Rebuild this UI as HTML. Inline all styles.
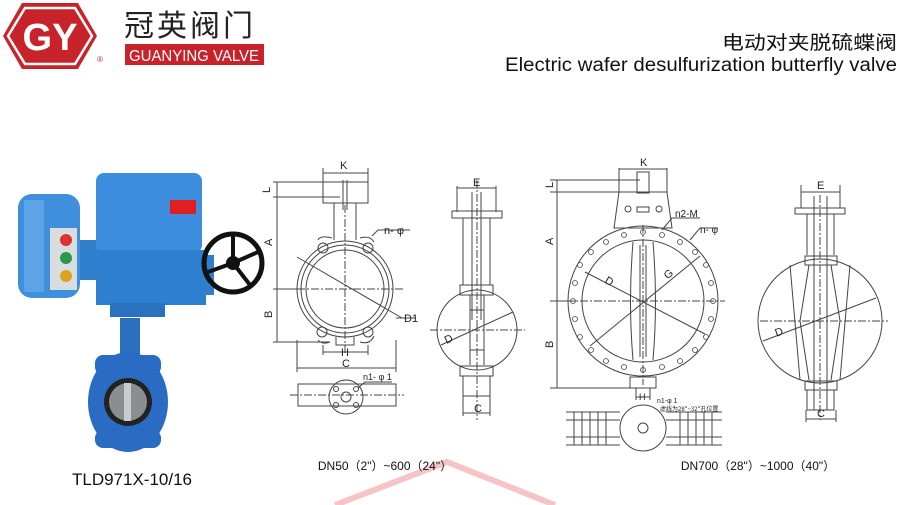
<!DOCTYPE html>
<html><head><meta charset="utf-8"><style>
body{margin:0;background:#fff;width:900px;height:505px;overflow:hidden;position:relative;font-family:"Liberation Sans","Noto Sans CJK SC",sans-serif}
svg{position:absolute;left:0;top:0}
</style></head><body>
<svg width="900" height="505" viewBox="0 0 900 505" xmlns="http://www.w3.org/2000/svg">
<g stroke="#f6c4c4" stroke-width="6" fill="none">
<polyline points="335,505 447,462 555,505"/>
</g>
<polygon points="22,3 78,3 97,36 78,69 22,69 3,36" fill="#c8232b"/>
<polygon points="25,8 75,8 92,36 75,64 25,64 8,36" fill="none" stroke="#fff" stroke-width="2.5"/>
<text x="50" y="50" font-size="38" font-weight="bold" fill="#fff" text-anchor="middle" font-family="Liberation Sans,sans-serif">GY</text>
<text x="97" y="62" font-size="8" fill="#c8232b">®</text>
<text x="124" y="36" font-size="30" fill="#222" font-family="Noto Sans CJK SC,sans-serif" letter-spacing="3">冠英阀门</text>
<rect x="125" y="44" width="139" height="21" fill="#c8232b"/>
<text x="194" y="61" font-size="16" fill="#fff" text-anchor="middle" textLength="130" lengthAdjust="spacingAndGlyphs">GUANYING VALVE</text>
<text x="897" y="49" font-size="19" fill="#111" text-anchor="end" font-family="Noto Sans CJK SC,sans-serif" textLength="175" lengthAdjust="spacingAndGlyphs">电动对夹脱硫蝶阀</text>
<text x="897" y="71" font-size="19" fill="#111" text-anchor="end" textLength="392" lengthAdjust="spacingAndGlyphs">Electric wafer desulfurization butterfly valve</text>
<!-- photo -->
<rect x="18" y="194" width="62" height="104" rx="14" fill="#3f8fdc"/>
<rect x="24" y="200" width="20" height="92" fill="#6fb3ef" opacity=".6"/>
<rect x="50" y="228" width="27" height="62" fill="#d8dde0"/>
<circle cx="66" cy="240" r="6" fill="#d33"/><circle cx="66" cy="258" r="6" fill="#2a9a4a"/><circle cx="66" cy="276" r="6" fill="#e0a020"/>
<rect x="80" y="240" width="20" height="40" fill="#2f7fcc"/>
<rect x="96" y="173" width="106" height="80" rx="8" fill="#3e8ee0"/>
<rect x="96" y="250" width="110" height="55" fill="#2f7fd0"/>
<rect x="110" y="303" width="55" height="14" fill="#2a72c0"/>
<rect x="170" y="200" width="26" height="14" fill="#e02020"/>
<rect x="200" y="255" width="14" height="40" fill="#2f7fcc"/>
<circle cx="233" cy="263" r="29" fill="none" stroke="#111" stroke-width="5"/>
<path d="M233,263 L233,236 M233,263 L208,272 M233,263 L250,285 M233,263 L258,252" stroke="#111" stroke-width="4"/>
<circle cx="233" cy="263" r="7" fill="#111"/>
<rect x="120" y="318" width="20" height="45" fill="#2a6fc0"/>
<ellipse cx="128" cy="402" rx="40" ry="50" fill="#2a6cc4"/>
<rect x="95" y="355" width="66" height="20" rx="8" fill="#2a6cc4"/>
<rect x="95" y="430" width="66" height="18" rx="8" fill="#2a6cc4"/>
<circle cx="128" cy="402" r="24" fill="#222"/>
<circle cx="128" cy="402" r="19" fill="#8a8e90"/>
<rect x="124" y="383" width="7" height="38" fill="#c8cccc"/>
<text x="132" y="485" font-size="17" fill="#111" text-anchor="middle">TLD971X-10/16</text>
<g stroke="#444" stroke-width="1" fill="none" font-size="10">
<rect x="323" y="182" width="45" height="21"/>
<path d="M334,203 L334,240 M356,203 L356,240 M343,180 L343,210 M347,180 L347,210"/>
<path d="M323,168 V182 M368,168 V182 M323,173 H368"/>
<circle cx="345" cy="289" r="48"/><circle cx="345" cy="289" r="44"/><circle cx="345" cy="289" r="39"/>
<circle cx="323" cy="248" r="5"/><circle cx="368" cy="248" r="5"/><circle cx="322" cy="332" r="5"/><circle cx="368" cy="332" r="5"/>
<path d="M318,240 Q320,235 332,238 M360,238 Q370,235 374,242 M318,340 Q322,345 330,342 M360,342 Q370,345 374,336"/>
<path d="M336,337 V345 H354 V337"/>
<path d="M297,289 H404 M345,205 V355" stroke-dasharray="8,2,2,2"/>
<path d="M273,182 H323 M273,197 H340 M273,289 H300 M273,342 H330 M277,182 V342"/>
<path d="M297,257 L402,318"/>
<path d="M372,236 L378,230 H410"/><path d="M396,318 H416"/>
<path d="M323,345 V355 M368,345 V355 M323,352 H368 M297,340 V372 M396,340 V372 M297,368 H396"/>
<rect x="298" y="384" width="98" height="22"/>
<path d="M290,395 H404" stroke-dasharray="8,2,2,2"/>
<circle cx="346" cy="397" r="17"/><circle cx="346" cy="397" r="5"/>
<circle cx="336" cy="389" r="2.5"/><circle cx="356" cy="389" r="2.5"/><circle cx="336" cy="405" r="2.5"/><circle cx="356" cy="405" r="2.5"/>
<path d="M358,388 L365,382 H392"/>
<path d="M457,186 V212 M496,186 V212 M457,188 H496"/>
<rect x="452" y="211" width="50" height="7"/>
<path d="M463,218 V285 M490,218 V285 M472,192 V320 M481,192 V320"/>
<rect x="460" y="285" width="33" height="10"/>
<circle cx="477" cy="330" r="40"/>
<path d="M470,295 V365 M484,295 V365 M470,310 H484 M470,350 H484"/>
<rect x="460" y="366" width="33" height="10"/>
<path d="M463,376 V396 H490 V376 M463,396 V416 M490,396 V416 M463,413 H490"/>
<path d="M430,330 H525 M477,180 V420" stroke-dasharray="8,2,2,2"/>
<path d="M441,345 L513,312"/>
<path d="M619,168 V193 M667,168 V193 M619,169 H667 M550,180 H640 M550,192 H640 M557,180 V388 M550,301 H575 M550,388 H640"/>
<path d="M637,172 H649 V193 H637 Z"/>
<path d="M619,192 L614,228 H672 L667,192 Z"/>
<circle cx="628" cy="209" r="3"/><circle cx="659" cy="209" r="3"/><rect x="637" y="207" width="12" height="5"/>
<circle cx="643" cy="301" r="75"/><circle cx="643" cy="301" r="61"/>
<g stroke-width="0.8">
<circle cx="643" cy="232" r="2.5"/><circle cx="680" cy="242" r="2.5"/><circle cx="706" cy="265" r="2.5"/><circle cx="713" cy="301" r="2.5"/><circle cx="706" cy="337" r="2.5"/><circle cx="680" cy="361" r="2.5"/><circle cx="643" cy="370" r="2.5"/><circle cx="606" cy="361" r="2.5"/><circle cx="580" cy="337" r="2.5"/><circle cx="573" cy="301" r="2.5"/><circle cx="580" cy="265" r="2.5"/><circle cx="606" cy="242" r="2.5"/>
<circle cx="662" cy="235" r="2.5"/><circle cx="695" cy="252" r="2.5"/><circle cx="711" cy="283" r="2.5"/><circle cx="711" cy="319" r="2.5"/><circle cx="695" cy="350" r="2.5"/><circle cx="662" cy="367" r="2.5"/><circle cx="624" cy="367" r="2.5"/><circle cx="591" cy="350" r="2.5"/><circle cx="575" cy="319" r="2.5"/><circle cx="575" cy="283" r="2.5"/><circle cx="591" cy="252" r="2.5"/><circle cx="624" cy="235" r="2.5"/>
</g>
<path d="M633,242 Q628,301 633,360 M653,242 Q658,301 653,360 M640,245 V357 M646,245 V357"/>
<path d="M566,301 H725 M643,225 V385" stroke-dasharray="8,2,2,2"/>
<path d="M585,272 L705,334 M590,346 L700,256"/>
<path d="M662,230 L672,218 H700 M690,240 L700,228 H718"/>
<rect x="630" y="377" width="26" height="11"/>
<path d="M636,388 V400 M650,388 V400 M636,397 H650"/>
<circle cx="643" cy="428" r="23"/>
<circle cx="643" cy="428" r="5"/>
<path d="M566,412 H620 M566,445 H620 M666,412 H722 M666,445 H722 M566,420 H620 M566,437 H620 M666,420 H722 M666,437 H722"/>
<path d="M574,412 V445 M582,412 V445 M590,412 V445 M598,412 V445 M606,412 V445 M680,412 V445 M688,412 V445 M696,412 V445 M704,412 V445 M712,412 V445"/>
<path d="M801,185 V208 M840,185 V208 M801,192 H840"/>
<rect x="795" y="208" width="50" height="6"/>
<path d="M807,214 V255 M834,214 V255 M814,196 V410 M827,196 V410"/>
<rect x="805" y="256" width="32" height="9"/>
<circle cx="820" cy="321" r="62"/>
<path d="M809,265 L800,321 L809,380 M831,265 L840,321 L831,380 M790,265 L800,380 M850,265 L840,380"/>
<rect x="805" y="381" width="32" height="9"/>
<path d="M807,390 V410 H834 V390 M806,410 V422 M836,410 V422 M806,419 H836"/>
<path d="M760,321 H888 M820,195 V420" stroke-dasharray="8,2,2,2"/>
<path d="M763,341 L876,298"/>
</g>
<g font-size="11" fill="#222">
<text x="340" y="169">K</text><text x="267" y="190" transform="rotate(-90 270,190)">L</text>
<text x="272" y="246" transform="rotate(-90 272,246)">A</text><text x="272" y="318" transform="rotate(-90 272,318)">B</text>
<text x="384" y="234">n- φ</text><text x="404" y="322">D1</text><text x="341" y="356">H</text><text x="342" y="367">C</text>
<text x="363" y="380" font-size="9">n1- φ 1</text>
<text x="473" y="186">E</text><text x="445" y="343" transform="rotate(-25 448,340)">D</text><text x="474" y="412">C</text>
<text x="640" y="166">K</text><text x="553" y="188" transform="rotate(-90 553,188)">L</text>
<text x="553" y="245" transform="rotate(-90 553,245)">A</text><text x="553" y="348" transform="rotate(-90 553,348)">B</text>
<text x="675" y="217" font-size="10">n2-M</text><text x="700" y="233" font-size="10">n- φ</text>
<text x="606" y="285" transform="rotate(30 610,280)">D</text><text x="664" y="278" transform="rotate(-40 668,274)">G</text>
<text x="639" y="400" font-size="9">H</text>
<text x="657" y="403" font-size="7">n1-φ 1</text><text x="660" y="411" font-size="6" font-family="Noto Sans CJK SC,sans-serif">虚线为28"~32"孔位置</text>
<text x="817" y="189">E</text><text x="775" y="336" transform="rotate(-20 778,332)">D</text><text x="817" y="417">C</text>
</g>
<text x="385" y="470" font-size="12" fill="#111" text-anchor="middle" font-family="Liberation Sans,Noto Sans CJK SC,sans-serif">DN50（2"）~600（24"）</text>
<text x="758" y="470" font-size="12" fill="#111" text-anchor="middle" font-family="Liberation Sans,Noto Sans CJK SC,sans-serif">DN700（28"）~1000（40"）</text>
</svg>
</body></html>
